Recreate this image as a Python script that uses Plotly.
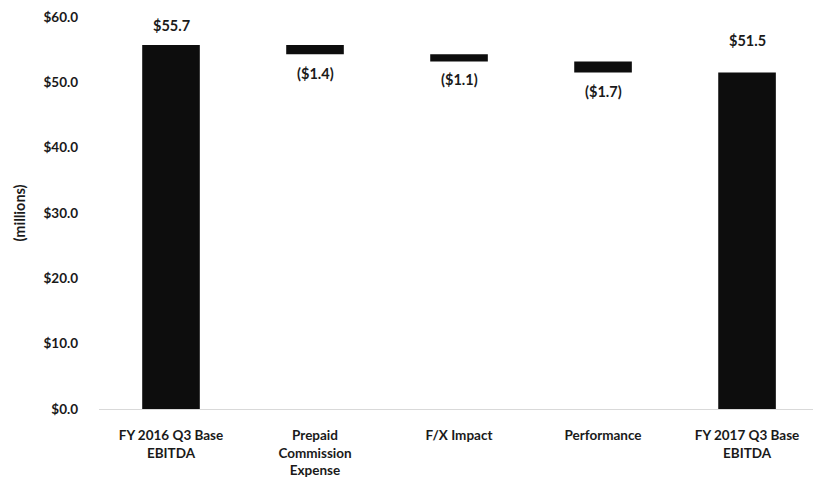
import plotly.graph_objects as go

categories = ["FY 2016 Q3 Base<br>EBITDA", "Prepaid<br>Commission<br>Expense", "F/X Impact", "Performance", "FY 2017 Q3 Base<br>EBITDA"]
values = [55.7, -1.4, -1.1, -1.7, 51.5]
measures = ["absolute", "relative", "relative", "relative", "total"]
labels = ["$55.7", "($1.4)", "($1.1)", "($1.7)", "$51.5"]
tick_vals = [0, 10, 20, 30, 40, 50, 60]
tick_text = ["$0.0", "$10.0", "$20.0", "$30.0", "$40.0", "$50.0", "$60.0"]

bar_color = "#0d0d0d"
text_color = "#1a1a1a"
font_fam = "Lato, 'Open Sans', sans-serif"
fsize = 13.5

fig = go.Figure(go.Waterfall(
    x=categories,
    y=values,
    measure=measures,
    textposition="none",
    increasing=dict(marker=dict(color=bar_color)),
    decreasing=dict(marker=dict(color=bar_color)),
    totals=dict(marker=dict(color=bar_color)),
    connector=dict(visible=False),
    width=0.4,
    hoverinfo="skip",
))

# value labels placed at bar ends computed from the data
label_gap = [9, 9, 8, 8, 22]
running = 0.0
for i, (cat, val, m, lab) in enumerate(zip(categories, values, measures, labels)):
    if m == "absolute":
        running = val
        y, anchor, shift = val, "bottom", label_gap[i]
    elif m == "total":
        y, anchor, shift = running, "bottom", label_gap[i]
    else:
        running += val
        if val < 0:
            y, anchor, shift = running, "top", -label_gap[i]
        else:
            y, anchor, shift = running, "bottom", label_gap[i]
    fig.add_annotation(
        x=cat, y=y, text="<b>" + lab + "</b>", showarrow=False,
        yanchor=anchor, yshift=shift,
        font=dict(family=font_fam, size=fsize + 1, color=text_color),
    )

fig.update_layout(
    width=813, height=495,
    margin=dict(l=99, r=0, t=17, b=86),
    paper_bgcolor="white", plot_bgcolor="white",
    showlegend=False,
    font=dict(family=font_fam, size=fsize, color=text_color),
    xaxis=dict(
        range=[-0.5, 4.458], autorange=False, automargin=False,
        showgrid=False, zeroline=False,
        showline=True, linecolor="#d9d9d9", linewidth=1,
        ticks="", ticklabelstandoff=14,
        tickfont=dict(family=font_fam, size=fsize, color=text_color, weight="bold"),
    ),
    yaxis=dict(
        range=[0, 60], autorange=False, automargin=False,
        tickvals=tick_vals, ticktext=tick_text,
        showgrid=False, zeroline=False, showline=False,
        ticks="", ticklabelstandoff=20,
        tickfont=dict(family=font_fam, size=fsize, color=text_color, weight="bold"),
        title=dict(text="<b>(millions)</b>", font=dict(family=font_fam, size=fsize + 1, color=text_color), standoff=14),
    ),
)

fig.write_html("out.html", config={"displayModeBar": False},
               post_script="document.body.style.margin='0';document.body.style.overflow='hidden';")
